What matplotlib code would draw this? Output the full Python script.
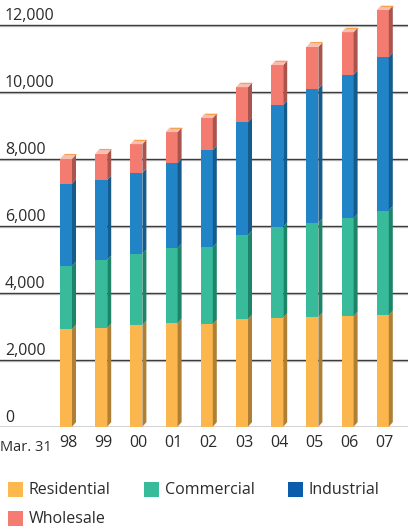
import matplotlib.pyplot as plt
from matplotlib.patches import Polygon, Rectangle
import numpy as np

# Electricity sales by customer class, fiscal years ending Mar. 31
years = ["98", "99", "00", "01", "02", "03", "04", "05", "06", "07"]
residential = [2910, 2940, 3030, 3090, 3060, 3210, 3250, 3270, 3300, 3330]
commercial = [1880, 2030, 2120, 2240, 2300, 2510, 2710, 2810, 2920, 3120]
industrial = [2460, 2390, 2420, 2540, 2890, 3370, 3640, 4000, 4280, 4580]
wholesale = [740, 780, 860, 920, 960, 1040, 1190, 1250, 1270, 1400]

series_names = ["Residential", "Commercial", "Industrial", "Wholesale"]
front_colors = ["#FBB64E", "#37BB9B", "#2184C7", "#F37B6F"]
side_colors = ["#B07F36", "#1E8468", "#155B8B", "#A9544C"]
swatch_colors = ["#FDB94E", "#37BB9B", "#0B5CAB", "#F47C72"]
top_color = "#F9BEB0"
ticks = [0, 2000, 4000, 6000, 8000, 10000, 12000]

W, H = 408, 532
fig = plt.figure(figsize=(W / 100, H / 100), dpi=100)
ax = fig.add_axes([0, (H - 426.7) / H, 1, 426.7 / H])

px_per_unit = 402.2 / 12000
ax.set_ylim(0, 426.7 / px_per_unit)
ax.set_xlim(-66 / 35.2, (W - 66) / 35.2)
ax.axis("off")

font = "Open Sans"
text_color = "#2b2b2b"

# gridlines: dark rule with a faint shadow underneath
for t in ticks:
    ax.axhline(t, color="#3c3c3c" if t else "#222222", lw=1.0, zorder=1)
    ax.axhline(t - 1.0 / px_per_unit, color="#c8c8c8", lw=1.0, zorder=0.9)
    ax.annotate(f"{t:,}", xy=(0.012, t), xycoords=("axes fraction", "data"),
                xytext=(0, 4.5), textcoords="offset pixels",
                ha="left", va="baseline", fontsize=11.5, family=font,
                color=text_color)

bar_w = 12 / 35.2
dx = 4 / 35.2
dy = 4.5 / px_per_unit
x = np.arange(len(years))
stacks = [residential, commercial, industrial, wholesale]

for i in x:
    bottom = 0
    left = i - bar_w / 2
    right = i + bar_w / 2
    for vals, fc, sc in zip(stacks, front_colors, side_colors):
        top = bottom + vals[i]
        ax.add_patch(Rectangle((left, bottom), bar_w, vals[i], facecolor=fc,
                               edgecolor="none", zorder=3))
        ax.add_patch(Polygon([(right, bottom), (right + dx, bottom + dy),
                              (right + dx, top + dy), (right, top)],
                             closed=True, facecolor=sc, edgecolor="none", zorder=3))
        bottom = top
    # top face of the stack
    ax.add_patch(Polygon([(left, bottom), (left + dx, bottom + dy),
                          (right + dx, bottom + dy), (right, bottom)],
                         closed=True, facecolor=top_color, edgecolor="none", zorder=3))
    ax.plot([left + dx, right + dx], [bottom + dy, bottom + dy], color="#F6A24C",
            lw=0.8, zorder=4, solid_capstyle="butt")
    ax.text(i + dx / 2, -8 / px_per_unit, years[i], ha="center", va="top",
            fontsize=11.5, family=font, color=text_color, clip_on=False)

fig.text(0 / W, 1 - 447.5 / H, "Mar. 31", ha="left", va="center",
         fontsize=10.5, family=font, color=text_color)

# legend drawn by hand so it wraps the same way
legend_pos = [(8, 482), (144, 482), (288, 482), (8, 511)]
for name, col, (lx, ly) in zip(series_names, swatch_colors, legend_pos):
    fig.patches.append(Rectangle((lx / W, 1 - (ly + 15) / H), 15 / W, 15 / H,
                                 facecolor=col, edgecolor="none",
                                 transform=fig.transFigure, figure=fig))
    fig.text((lx + 21) / W, 1 - (ly + 8) / H, name, ha="left", va="center",
             fontsize=11.5, family=font, color=text_color)

fig.savefig("out.png", dpi=100)
